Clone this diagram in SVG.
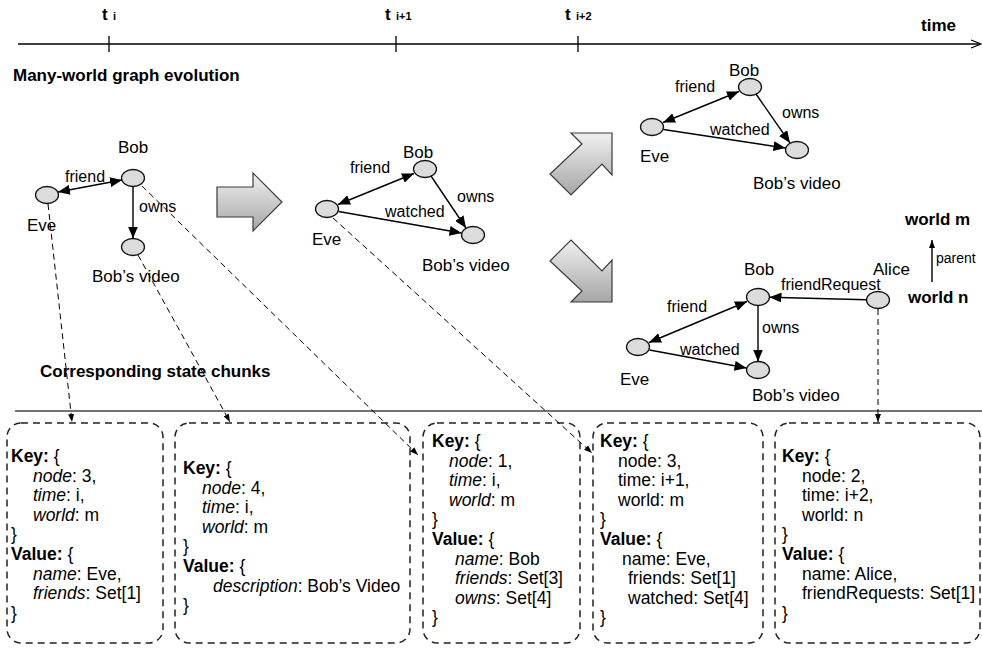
<svg xmlns="http://www.w3.org/2000/svg" width="982" height="648" viewBox="0 0 982 648">
<defs>
<linearGradient id="bg" x1="0" y1="0" x2="0" y2="1"><stop offset="0" stop-color="#f0f0f0"/><stop offset="1" stop-color="#a6a6a6"/></linearGradient>
<marker id="ah" viewBox="0 0 12 10" refX="12" refY="5" markerWidth="12" markerHeight="10" markerUnits="userSpaceOnUse" orient="auto-start-reverse"><path d="M0,0 L12,5 L0,10 z" fill="#000"/></marker>
<marker id="sh" viewBox="0 0 8 6" refX="8" refY="3" markerWidth="8" markerHeight="6" markerUnits="userSpaceOnUse" orient="auto"><path d="M0,0 L8,3 L0,6 z" fill="#000"/></marker>
</defs>
<style>
text{font-family:"Liberation Sans",Arial,Helvetica,sans-serif;fill:#000}
.lbl{font-size:17px}
.el{font-size:16px}
.b{font-weight:bold}
.node{fill:#dcdcdc;stroke:#111;stroke-width:1.3}
.edge{stroke:#000;stroke-width:1.4;fill:none}
.dash{stroke:#000;stroke-width:1;stroke-dasharray:6 4;fill:none}
.box{fill:none;stroke:#222;stroke-width:1.5;stroke-dasharray:7 5}
.big{fill:url(#bg);stroke:#3a3a3a;stroke-width:1.2}
.bt{font-size:17.5px}
.i{font-style:italic}
.line{stroke:#000;stroke-width:1.3;fill:none}
</style>
<rect width="982" height="648" fill="#fff"/>

<g id="timeline">
<line class="line" x1="18" y1="44" x2="980" y2="44"/>
<path class="line" d="M971,40 L981,44 L971,48"/>
<line class="line" x1="109" y1="36" x2="109" y2="52"/>
<line class="line" x1="396" y1="36" x2="396" y2="52"/>
<line class="line" x1="578" y1="36" x2="578" y2="52"/>
<text class="b" x="102" y="20" font-size="17">t</text><text class="b" x="113" y="20" font-size="11">i</text>
<text class="b" x="385" y="20" font-size="17">t</text><text class="b" x="396" y="20" font-size="11">i+1</text>
<text class="b" x="565" y="20" font-size="17">t</text><text class="b" x="576" y="20" font-size="11">i+2</text>
<text class="b" x="921" y="31" font-size="17">time</text>
</g>

<text id="title-evolution" class="b" x="13" y="81" font-size="17">Many-world graph evolution</text>
<text id="title-chunks" class="b" x="40" y="377" font-size="17">Corresponding state chunks</text>
<line id="separator" x1="15" y1="411" x2="982" y2="411" stroke="#444" stroke-width="1.3"/>

<g id="big-arrows">
<polygon class="big" points="217,187 253,187 253,173 282,202 253,231 253,217 217,217"/>
<polygon class="big" points="612,133 571,133 582,144 550,174 571,195 602,164 612,175"/>
<polygon class="big" points="612,302 571,302 582,291 550,261 571,240 602,271 612,260"/>
</g>

<g id="world-legend">
<text class="b" x="905" y="225" font-size="17">world m</text>
<text class="b" x="908" y="303" font-size="17">world n</text>
<text x="936" y="263" font-size="14">parent</text>
</g>

<!-- graph 1 -->
<g id="g1-eve"><ellipse class="node" cx="47" cy="195" rx="11.5" ry="8.5"/><text class="lbl" x="27" y="231">Eve</text></g>
<g id="g1-bob"><ellipse class="node" cx="133" cy="178" rx="11.5" ry="8.5"/><text class="lbl" x="133" y="153" text-anchor="middle">Bob</text></g>
<g id="g1-video"><ellipse class="node" cx="133" cy="247" rx="11.5" ry="8.5"/><text class="lbl" x="92" y="282">Bob’s video</text></g>

<!-- graph 2 -->
<g id="g2-eve"><ellipse class="node" cx="327" cy="209" rx="11.5" ry="8.5"/><text class="lbl" x="312" y="245">Eve</text></g>
<g id="g2-bob"><ellipse class="node" cx="425" cy="169" rx="11.5" ry="8.5"/><text class="lbl" x="403" y="158">Bob</text></g>
<g id="g2-video"><ellipse class="node" cx="473" cy="235" rx="11.5" ry="8.5"/><text class="lbl" x="422" y="271">Bob’s video</text></g>

<!-- graph 3 -->
<g id="g3-eve"><ellipse class="node" cx="652" cy="127" rx="11.5" ry="8.5"/><text class="lbl" x="640" y="162">Eve</text></g>
<g id="g3-bob"><ellipse class="node" cx="750" cy="87" rx="11.5" ry="8.5"/><text class="lbl" x="729" y="76">Bob</text></g>
<g id="g3-video"><ellipse class="node" cx="797" cy="150" rx="11.5" ry="8.5"/><text class="lbl" x="753" y="189">Bob’s video</text></g>

<!-- graph 4 -->
<g id="g4-eve"><ellipse class="node" cx="638" cy="347" rx="11.5" ry="8.5"/><text class="lbl" x="620" y="385">Eve</text></g>
<g id="g4-bob"><ellipse class="node" cx="758" cy="297" rx="11.5" ry="8.5"/><text class="lbl" x="744" y="275">Bob</text></g>
<g id="g4-video"><ellipse class="node" cx="758" cy="370" rx="11.5" ry="8.5"/><text class="lbl" x="752" y="401">Bob’s video</text></g>
<g id="g4-alice"><ellipse class="node" cx="878" cy="300" rx="11.5" ry="8.5"/><text class="lbl" x="873" y="275">Alice</text></g>

<!-- state chunk boxes -->
<g id="box1">
<rect class="box" x="7" y="423" width="156" height="220" rx="14"/>
<text class="bt">
<tspan x="11" y="462"><tspan class="b">Key:</tspan> {</tspan>
<tspan x="33" y="481.6"><tspan class="i">node</tspan>: 3,</tspan>
<tspan x="33" y="501.2"><tspan class="i">time</tspan>: i,</tspan>
<tspan x="33" y="520.8"><tspan class="i">world</tspan>: m</tspan>
<tspan x="11" y="540.4">}</tspan>
<tspan x="11" y="560"><tspan class="b">Value:</tspan> {</tspan>
<tspan x="33" y="579.6"><tspan class="i">name</tspan>: Eve,</tspan>
<tspan x="33" y="599.2"><tspan class="i">friends</tspan>: Set[1]</tspan>
<tspan x="11" y="618.8">}</tspan>
</text>
</g>
<g id="box2">
<rect class="box" x="175" y="423" width="235" height="220" rx="14"/>
<text class="bt">
<tspan x="183" y="474"><tspan class="b">Key:</tspan> {</tspan>
<tspan x="202" y="493.6"><tspan class="i">node</tspan>: 4,</tspan>
<tspan x="202" y="513.2"><tspan class="i">time</tspan>: i,</tspan>
<tspan x="202" y="532.8"><tspan class="i">world</tspan>: m</tspan>
<tspan x="183" y="552.4">}</tspan>
<tspan x="183" y="572"><tspan class="b">Value:</tspan> {</tspan>
<tspan x="213" y="591.6"><tspan class="i">description</tspan>: Bob’s Video</tspan>
<tspan x="183" y="611.2">}</tspan>
</text>
</g>
<g id="box3">
<rect class="box" x="423" y="423" width="157" height="220" rx="14"/>
<text class="bt">
<tspan x="432" y="447"><tspan class="b">Key:</tspan> {</tspan>
<tspan x="449" y="466.6"><tspan class="i">node</tspan>: 1,</tspan>
<tspan x="449" y="486.2"><tspan class="i">time</tspan>: i,</tspan>
<tspan x="449" y="505.8"><tspan class="i">world</tspan>: m</tspan>
<tspan x="432" y="525.4">}</tspan>
<tspan x="432" y="545"><tspan class="b">Value:</tspan> {</tspan>
<tspan x="455" y="564.6"><tspan class="i">name</tspan>: Bob</tspan>
<tspan x="455" y="584.2"><tspan class="i">friends</tspan>: Set[3]</tspan>
<tspan x="455" y="603.8"><tspan class="i">owns</tspan>: Set[4]</tspan>
<tspan x="432" y="623.4">}</tspan>
</text>
</g>
<g id="box4">
<rect class="box" x="593" y="423" width="170" height="220" rx="14"/>
<text class="bt">
<tspan x="600" y="447"><tspan class="b">Key:</tspan> {</tspan>
<tspan x="618" y="466.6">node: 3,</tspan>
<tspan x="618" y="486.2">time: i+1,</tspan>
<tspan x="618" y="505.8">world: m</tspan>
<tspan x="600" y="525.4">}</tspan>
<tspan x="600" y="545"><tspan class="b">Value:</tspan> {</tspan>
<tspan x="622" y="564.6">name: Eve,</tspan>
<tspan x="628" y="584.2">friends: Set[1]</tspan>
<tspan x="628" y="603.8">watched: Set[4]</tspan>
<tspan x="600" y="623.4">}</tspan>
</text>
</g>
<g id="box5">
<rect class="box" x="775" y="423" width="205" height="220" rx="14"/>
<text class="bt">
<tspan x="782" y="462"><tspan class="b">Key:</tspan> {</tspan>
<tspan x="802" y="481.6">node: 2,</tspan>
<tspan x="802" y="501.2">time: i+2,</tspan>
<tspan x="802" y="520.8">world: n</tspan>
<tspan x="782" y="540.4">}</tspan>
<tspan x="782" y="560"><tspan class="b">Value:</tspan> {</tspan>
<tspan x="802" y="579.6">name: Alice,</tspan>
<tspan x="802" y="599.2">friendRequests: Set[1]</tspan>
<tspan x="782" y="618.8">}</tspan>
</text>
</g>

<g id="connectors">
<!-- graph 1 -->
<line class="edge" x1="58" y1="192" x2="122" y2="180" marker-start="url(#ah)" marker-end="url(#ah)"/>
<text class="el" x="65" y="182">friend</text>
<line class="edge" x1="133" y1="186.5" x2="133" y2="238.5" marker-end="url(#ah)"/>
<text class="el" x="139" y="212">owns</text>
<!-- graph 2 -->
<line class="edge" x1="338" y1="204.5" x2="414" y2="173.5" marker-start="url(#ah)" marker-end="url(#ah)"/>
<text class="el" x="350" y="173">friend</text>
<line class="edge" x1="431" y1="176" x2="466" y2="228" marker-end="url(#ah)"/>
<text class="el" x="457" y="202">owns</text>
<line class="edge" x1="338.5" y1="211.5" x2="461.5" y2="233" marker-end="url(#ah)"/>
<text class="el" x="385" y="217">watched</text>
<!-- graph 3 -->
<line class="edge" x1="663" y1="122.5" x2="739" y2="91.5" marker-start="url(#ah)" marker-end="url(#ah)"/>
<text class="el" x="675" y="92">friend</text>
<line class="edge" x1="756" y1="94" x2="790" y2="143" marker-end="url(#ah)"/>
<text class="el" x="782" y="118">owns</text>
<line class="edge" x1="663.5" y1="129.5" x2="785.5" y2="148" marker-end="url(#ah)"/>
<text class="el" x="710" y="135">watched</text>
<!-- graph 4 -->
<line class="edge" x1="649" y1="342.5" x2="747" y2="301.5" marker-start="url(#ah)" marker-end="url(#ah)"/>
<text class="el" x="667" y="312">friend</text>
<line class="edge" x1="758" y1="305.5" x2="758" y2="361.5" marker-end="url(#ah)"/>
<text class="el" x="762" y="333">owns</text>
<line class="edge" x1="649.5" y1="350" x2="746.5" y2="368" marker-end="url(#ah)"/>
<text class="el" x="680" y="355">watched</text>
<line class="edge" x1="866.5" y1="299.8" x2="769.5" y2="297.2" marker-end="url(#ah)"/>
<text class="el" x="781" y="290">friendRequest</text>
<!-- parent -->
<line class="edge" x1="932" y1="282" x2="932" y2="240" stroke-width="1.2" marker-end="url(#sh)"/>
<!-- dashed links to state chunks -->
<line class="dash" x1="48" y1="204" x2="72" y2="422" marker-end="url(#sh)"/>
<line class="dash" x1="138" y1="255" x2="230" y2="422" marker-end="url(#sh)"/>
<line class="dash" x1="142" y1="186" x2="418" y2="455" marker-end="url(#sh)"/>
<line class="dash" x1="333" y1="218" x2="592" y2="453" marker-end="url(#sh)"/>
<line class="dash" x1="878" y1="309" x2="878" y2="422" marker-end="url(#sh)"/>
</g>
</svg>
